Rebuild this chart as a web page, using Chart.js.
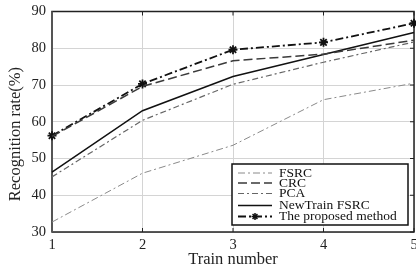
<!DOCTYPE html>
<html>
<head>
<meta charset="utf-8">
<script src="https://cdn.jsdelivr.net/npm/chart.js@4.4.1/dist/chart.umd.min.js"></script>
<style>
  html, body { margin: 0; padding: 0; background: #fff; }
  canvas { display: block; }
</style>
</head>
<body>
<canvas id="chart" width="416" height="270"></canvas>
<script>
var trainNumbers = ['1', '2', '3', '4', '5'];
var fsrc = [32.7, 46.0, 53.6, 66.0, 70.5];
var crc = [56.0, 69.6, 76.6, 78.4, 82.2];
var pca = [45.0, 60.4, 70.2, 76.2, 81.7];
var newTrainFsrc = [46.3, 63.0, 72.3, 78.3, 84.3];
var proposed = [56.2, 70.3, 79.6, 81.6, 86.8];

var serif = '"Liberation Serif", "DejaVu Serif", serif';

// frame round the plot, with small inward ticks on every side
var framePlugin = {
    id: 'frame',
    beforeDatasetsDraw: function (chart) {
        var a = chart.chartArea, ctx = chart.ctx;
        var xs = chart.scales.x, ys = chart.scales.y;
        ctx.save();
        ctx.strokeStyle = '#222';
        ctx.lineWidth = 1;
        ctx.beginPath();
        xs.ticks.forEach(function (t, i) {
            var px = xs.getPixelForTick(i);
            ctx.moveTo(px, a.top); ctx.lineTo(px, a.top + 4);
            ctx.moveTo(px, a.bottom); ctx.lineTo(px, a.bottom - 4);
        });
        ys.ticks.forEach(function (t, i) {
            var py = ys.getPixelForTick(i);
            ctx.moveTo(a.right, py); ctx.lineTo(a.right - 4, py);
        });
        ctx.stroke();
        ctx.lineWidth = 1.5;
        ctx.strokeRect(a.left, a.top, a.right - a.left, a.bottom - a.top);
        ctx.strokeStyle = '#555';
        ctx.lineWidth = 2;
        ctx.beginPath();
        ctx.moveTo(a.left, a.top); ctx.lineTo(a.left, a.bottom);
        ctx.stroke();
        ctx.restore();
    }
};

// legend box in the lower right corner of the plot
var boxLegend = {
    id: 'boxLegend',
    afterDraw: function (chart) {
        var a = chart.chartArea, ctx = chart.ctx;
        var w = 176, h = 61;
        var x0 = a.right - 182, y0 = a.bottom - 68;
        ctx.save();
        ctx.fillStyle = '#fff';
        ctx.fillRect(x0, y0, w, h);
        ctx.strokeStyle = '#111';
        ctx.lineWidth = 1.5;
        ctx.strokeRect(x0, y0, w, h);
        ctx.font = '13.5px ' + serif;
        ctx.textBaseline = 'middle';
        ctx.fillStyle = '#111';
        var rowY = [9, 19, 29.5, 41.5, 52.5];
        chart.data.datasets.forEach(function (ds, i) {
            var y = y0 + rowY[i];
            ctx.strokeStyle = ds.borderColor;
            ctx.lineWidth = ds.borderWidth;
            ctx.setLineDash(ds.borderDash || []);
            ctx.beginPath();
            ctx.moveTo(x0 + 6, y); ctx.lineTo(x0 + 40, y);
            ctx.stroke();
            ctx.setLineDash([]);
            if (ds.pointRadius) {
                ctx.lineWidth = 1.5;
                var r = 3.5, cx = x0 + 23;
                ctx.beginPath();
                ctx.moveTo(cx - r, y); ctx.lineTo(cx + r, y);
                ctx.moveTo(cx, y - r); ctx.lineTo(cx, y + r);
                ctx.moveTo(cx - r * 0.7, y - r * 0.7); ctx.lineTo(cx + r * 0.7, y + r * 0.7);
                ctx.moveTo(cx - r * 0.7, y + r * 0.7); ctx.lineTo(cx + r * 0.7, y - r * 0.7);
                ctx.stroke();
            }
            ctx.fillText(ds.label, x0 + 47, y);
        });
        ctx.restore();
    }
};

var ctx = document.getElementById('chart').getContext('2d');
var chart = new Chart(ctx, {
    type: 'line',
    data: {
        labels: trainNumbers,
        datasets: [
            {
                label: 'FSRC',
                data: fsrc,
                borderColor: '#8a8a8a',
                borderWidth: 1,
                borderDash: [7, 3, 2, 3],
                pointRadius: 0
            },
            {
                label: 'CRC',
                data: crc,
                borderColor: '#3a3a3a',
                borderWidth: 1.5,
                borderDash: [9, 4],
                pointRadius: 0
            },
            {
                label: 'PCA',
                data: pca,
                borderColor: '#666',
                borderWidth: 1.2,
                borderDash: [6, 3, 2, 3],
                pointRadius: 0
            },
            {
                label: 'NewTrain FSRC',
                data: newTrainFsrc,
                borderColor: '#111',
                borderWidth: 1.5,
                pointRadius: 0
            },
            {
                label: 'The proposed method',
                data: proposed,
                borderColor: '#111',
                borderWidth: 1.8,
                borderDash: [8, 3, 2, 3],
                pointStyle: 'star',
                pointRadius: 4.5,
                pointBorderWidth: 1.8,
                pointBorderColor: '#111',
                pointBackgroundColor: '#111'
            }
        ]
    },
    options: {
        responsive: false,
        animation: false,
        devicePixelRatio: 1,
        clip: false,
        layout: { autoPadding: false, padding: { top: 11.5, right: 2, left: 0, bottom: 0 } },
        plugins: {
            legend: { display: false },
            tooltip: { enabled: false }
        },
        scales: {
            x: {
                offset: false,
                grid: { color: '#d4d4d4', drawTicks: false },
                border: { display: false },
                ticks: { color: '#222', font: { family: serif, size: 14.5 }, padding: 4, maxRotation: 0 },
                title: { display: true, text: 'Train number', color: '#222', font: { family: serif, size: 16.5 }, padding: { top: 0, bottom: 0 } },
                afterFit: function (scale) {
                    scale.height = 38;
                    scale.paddingLeft = 0;
                    scale.paddingRight = 0;
                }
            },
            y: {
                min: 30,
                max: 90,
                grid: { color: '#d4d4d4', drawTicks: false },
                border: { display: false },
                ticks: { stepSize: 10, color: '#222', font: { family: serif, size: 14.5 }, padding: 6 },
                title: { display: true, text: 'Recognition rate(%)      ', color: '#222', font: { family: serif, size: 16.5 }, padding: { top: 6, bottom: 0 } },
                afterFit: function (scale) {
                    scale.width = 52;
                    scale.paddingTop = 0;
                    scale.paddingBottom = 0;
                }
            }
        }
    },
    plugins: [framePlugin, boxLegend]
});
</script>
</body>
</html>
